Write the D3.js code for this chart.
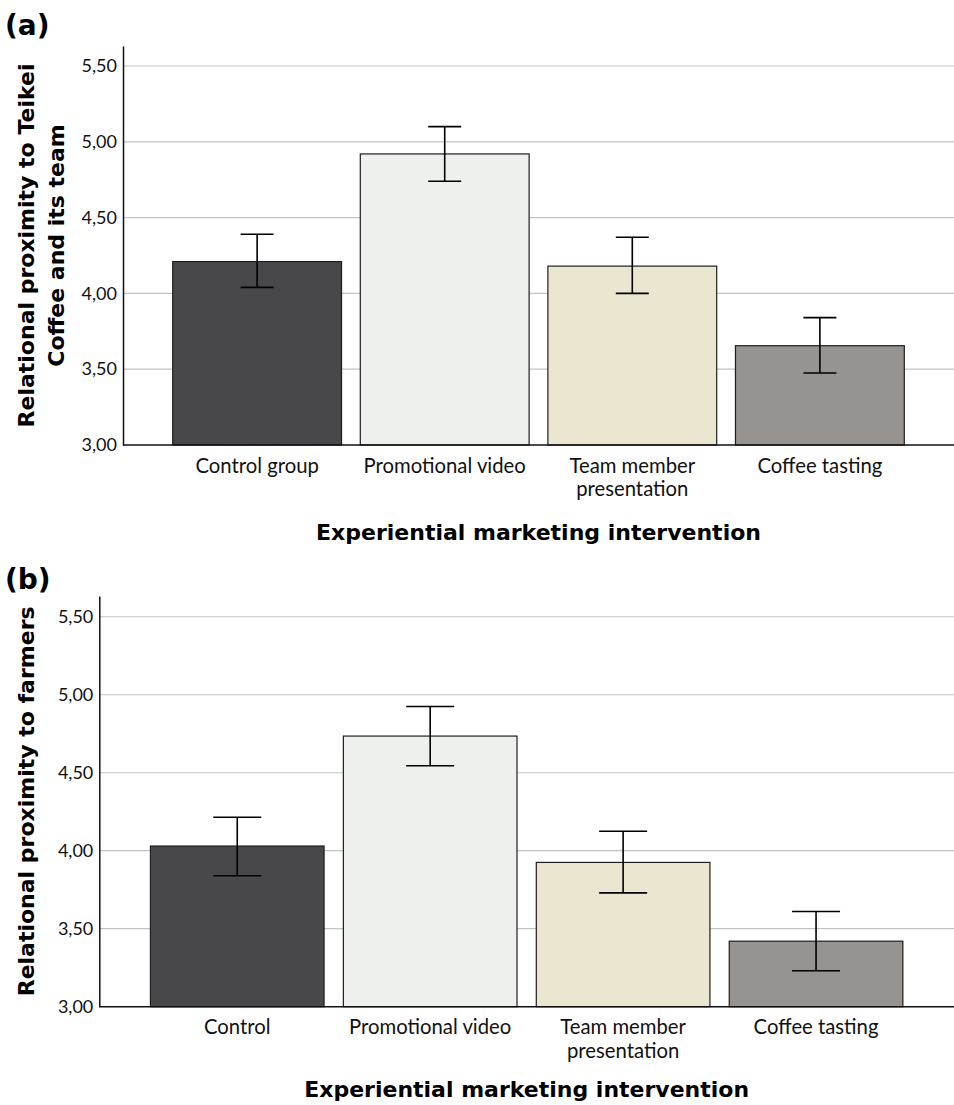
<!DOCTYPE html>
<html>
<head>
<meta charset="utf-8">
<script src="https://cdn.jsdelivr.net/npm/d3@7"></script>
<style>
  html, body { margin: 0; padding: 0; background: #ffffff; }
  svg { display: block; }
  text { font-family: Lato, "Open Sans", sans-serif; fill: #111; }
  .bold { font-family: "DejaVu Sans", Verdana, sans-serif; font-weight: bold; fill: #000; }
</style>
</head>
<body>
<svg id="chart" width="954" height="1105"></svg>
<script>
// ---------- DATA ----------
const categoriesA = ["Control group", "Promotional video", "Team member|presentation", "Coffee tasting"];
const meansA = [4.21, 4.92, 4.18, 3.655];
const ciLowA = [4.04, 4.74, 4.00, 3.475];
const ciHighA = [4.39, 5.10, 4.37, 3.84];

const categoriesB = ["Control", "Promotional video", "Team member|presentation", "Coffee tasting"];
const meansB = [4.03, 4.735, 3.925, 3.42];
const ciLowB = [3.84, 4.545, 3.73, 3.23];
const ciHighB = [4.215, 4.925, 4.125, 3.61];

const yTicks = [3.0, 3.5, 4.0, 4.5, 5.0, 5.5];
const barColors = ["#48484a", "#eef0ee", "#ebe6d0", "#979391"];

const xTitle = "Experiential marketing intervention";
const yTitleA = ["Relational proximity to Teikei", "Coffee and its team"];
const yTitleB = ["Relational proximity to farmers"];

// ---------- DRAW ----------
const svg = d3.select("#chart");
const fmt = v => d3.format(".2f")(v).replace(".", ",");

function drawPanel(o) {
  const g = svg.append("g");
  const x = d3.scaleBand().domain(o.categories).range([o.left, o.right])
    .paddingInner(0.1).paddingOuter(0.265);
  const y = d3.scaleLinear().domain([3, o.yMax]).range([o.bottom, o.top]);

  // gridlines
  g.append("g").selectAll("line").data(yTicks.filter(t => t > 3)).join("line")
    .attr("x1", o.left).attr("x2", o.gridRight)
    .attr("y1", d => y(d)).attr("y2", d => y(d))
    .attr("stroke", "#c3c3c3").attr("stroke-width", 1.2);

  // y axis
  const ya = g.append("g").attr("transform", `translate(${o.left},0)`)
    .call(d3.axisLeft(y).tickValues(yTicks).tickFormat(fmt).tickSize(0).tickPadding(6));
  ya.select(".domain").attr("stroke", "#111").attr("stroke-width", 1.5);
  ya.selectAll("text").attr("font-size", 18).attr("fill", "#111")
    .style("font-family", "Lato, sans-serif");

  // bars
  g.append("g").selectAll("rect").data(o.means).join("rect")
    .attr("x", (d, i) => x(o.categories[i]))
    .attr("width", x.bandwidth())
    .attr("y", d => y(d))
    .attr("height", d => y(3) - y(d))
    .attr("fill", (d, i) => barColors[i])
    .attr("stroke", "#1e1e1e").attr("stroke-width", 1.2);

  // x axis line
  g.append("line").attr("x1", o.left).attr("x2", o.gridRight)
    .attr("y1", y(3)).attr("y2", y(3)).attr("stroke", "#111").attr("stroke-width", 1.5);

  // error bars
  const eb = g.append("g").selectAll("g").data(o.means).join("g");
  const cx = i => x(o.categories[i]) + x.bandwidth() / 2;
  eb.append("line").attr("x1", (d, i) => cx(i)).attr("x2", (d, i) => cx(i))
    .attr("y1", (d, i) => y(o.low[i])).attr("y2", (d, i) => y(o.high[i]))
    .attr("stroke", "#000").attr("stroke-width", 1.6);
  [o.low, o.high].forEach(arr => {
    eb.append("line")
      .attr("x1", (d, i) => cx(i) - o.cap / 2).attr("x2", (d, i) => cx(i) + o.cap / 2)
      .attr("y1", (d, i) => y(arr[i])).attr("y2", (d, i) => y(arr[i]))
      .attr("stroke", "#000").attr("stroke-width", 1.6);
  });

  // x tick labels
  const xl = g.append("g").selectAll("text").data(o.categories).join("text")
    .attr("text-anchor", "middle").attr("font-size", 20.3).attr("fill", "#111")
    .attr("x", d => x(d) + x.bandwidth() / 2)
    .attr("y", y(3) + o.tickLabelGap);
  xl.each(function (d) {
    const parts = d.split("|");
    d3.select(this).selectAll("tspan").data(parts).join("tspan")
      .attr("x", x(d) + x.bandwidth() / 2)
      .attr("dy", (p, j) => j === 0 ? 0 : 23.5)
      .text(p => p);
  });

  // x title
  g.append("text").attr("class", "bold").attr("text-anchor", "middle")
    .attr("x", (o.left + o.gridRight) / 2).attr("y", o.xTitleY)
    .attr("font-size", 22).text(xTitle);

  // y title
  const ymid = (y(3) + o.top) / 2;
  o.yTitle.forEach((t, j) => {
    g.append("text").attr("class", "bold").attr("text-anchor", "middle")
      .attr("transform", `translate(${o.yTitleX[j]},${ymid}) rotate(-90)`)
      .attr("dy", "0.33em")
      .attr("font-size", 22).text(t);
  });

  // panel letter
  g.append("text").attr("class", "bold").attr("x", 5).attr("y", o.letterY)
    .attr("font-size", 28).text(o.letter);
}

drawPanel({
  categories: categoriesA, means: meansA, low: ciLowA, high: ciHighA,
  left: 123, right: 954, gridRight: 954, top: 46, bottom: 445, yMax: 5.632,
  cap: 33, tickLabelGap: 27.5, xTitleY: 540, yTitle: yTitleA, yTitleX: [27, 57],
  letter: "(a)", letterY: 35
});

drawPanel({
  categories: categoriesB, means: meansB, low: ciLowB, high: ciHighB,
  left: 99.3, right: 954, gridRight: 954, top: 596, bottom: 1006.7, yMax: 5.633,
  cap: 48, tickLabelGap: 27.5, xTitleY: 1097, yTitle: yTitleB, yTitleX: [27],
  letter: "(b)", letterY: 589
});
</script>
</body>
</html>
